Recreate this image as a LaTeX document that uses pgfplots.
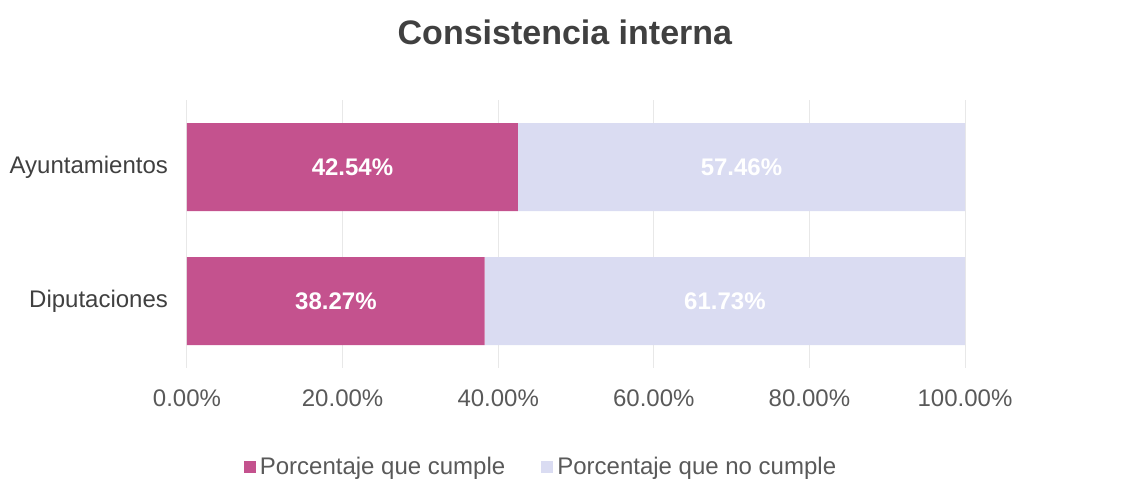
\documentclass[border=0pt]{standalone}
\usepackage{pgfplots}
\pgfplotsset{compat=1.18}
\usepackage{fontspec}
\setmainfont{Liberation Sans}
\definecolor{pinkbar}{RGB}{196,82,142}
\definecolor{lilac}{RGB}{218,220,242}
\definecolor{ticktxt}{RGB}{89,89,89}
\definecolor{titletxt}{RGB}{64,64,64}
\begin{document}
\begin{tikzpicture}
\useasboundingbox (0,0) rectangle (562.5pt,239.5pt);
\begin{axis}[
  at={(93.5pt,55.5pt)}, anchor=south west,
  scale only axis, width=389pt, height=134pt,
  xbar stacked, bar width=44pt,
  xmin=0, xmax=100, ymin=-0.5, ymax=1.5,
  ytick={0,1}, yticklabels={Diputaciones,Ayuntamientos},
  xtick={0,20,40,60,80,100},
  xticklabels={0.00\%,20.00\%,40.00\%,60.00\%,80.00\%,100.00\%},
  axis line style={draw=none}, major tick length=0pt,
  tick label style={font=\fontsize{12}{14}\selectfont, text=ticktxt},
  xticklabel style={yshift=-7.5pt},
  yticklabel style={xshift=-6pt, text=titletxt},
  xmajorgrids, grid style={gray!18, line width=0.5pt},
  title={\textbf{Consistencia interna}},
  title style={at={(0.5,1)}, anchor=center, yshift=28pt, xshift=-5.5pt, font=\fontsize{17}{20}\selectfont, text=titletxt},
  legend style={at={(0.5,0)}, anchor=center, yshift=-49.5pt, xshift=-17pt, draw=none, fill=none, font=\fontsize{12}{14}\selectfont, text=ticktxt, legend columns=2, /tikz/every even column/.append style={column sep=16pt}},
  legend image code/.code={\fill[#1] (0pt,-3pt) rectangle (6pt,3pt);},
]
\addplot[draw=none, fill=pinkbar] coordinates {(38.27,0) (42.54,1)};
\addplot[draw=none, fill=lilac] coordinates {(61.73,0) (57.46,1)};
\legend{Porcentaje que cumple, Porcentaje que no cumple}
\end{axis}
\begin{axis}[
  at={(93.5pt,55.5pt)}, anchor=south west,
  scale only axis, width=389pt, height=134pt,
  xmin=0, xmax=100, ymin=-0.5, ymax=1.5,
  hide axis,
]
\addplot[only marks, mark=none, nodes near coords, point meta=explicit symbolic,
  every node near coord/.style={anchor=center, text=white, font=\fontsize{12}{14}\selectfont\bfseries}]
  coordinates {(21.27,1) [42.54\%] (71.27,1) [57.46\%] (19.14,0) [38.27\%] (69.14,0) [61.73\%]};
\end{axis}
\end{tikzpicture}
\end{document}
